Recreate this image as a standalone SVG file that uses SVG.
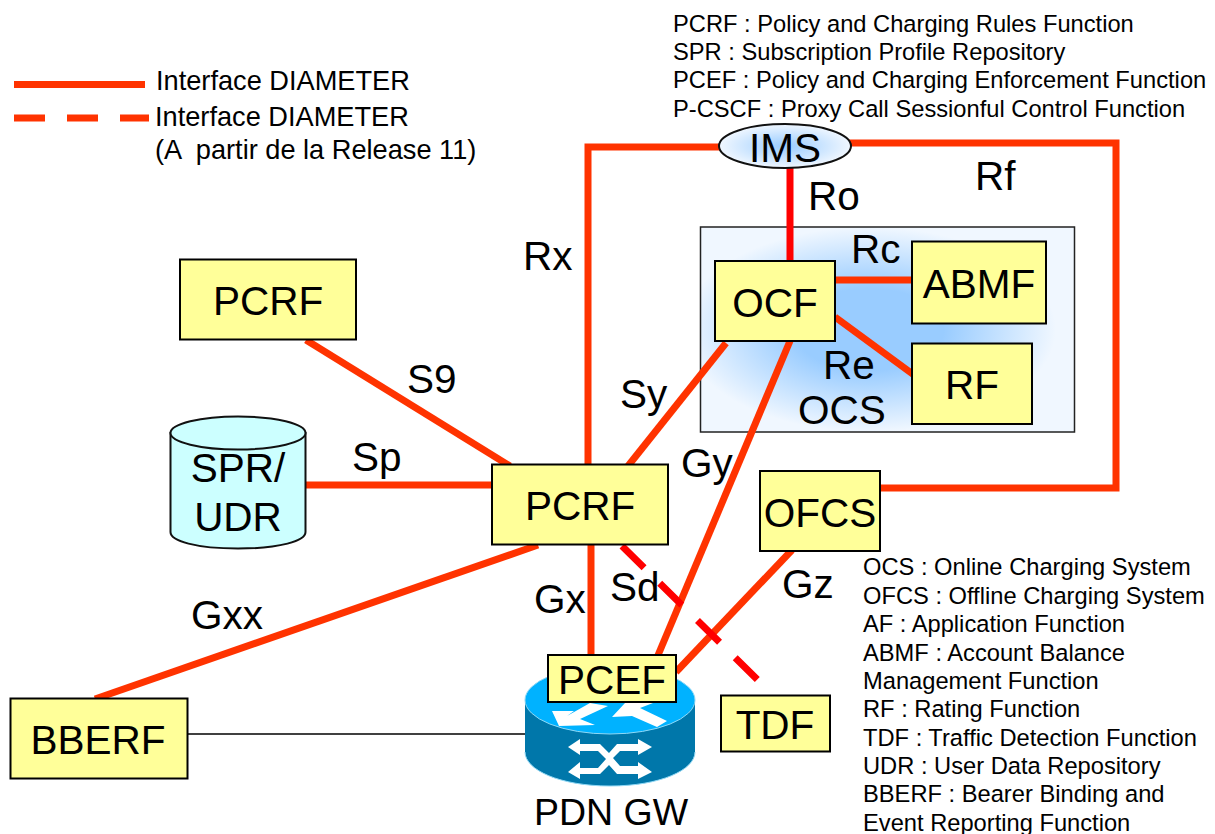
<svg xmlns="http://www.w3.org/2000/svg" width="1215" height="834" viewBox="0 0 1215 834">
<style>
text{font-family:"Liberation Sans",Arial,sans-serif;fill:#000}
.t{font-size:23.7px}
.g{font-size:27.200px;white-space:pre}
.l{font-size:40.5px}
.n{font-size:40.5px;text-anchor:middle}
.box{fill:#ffff99;stroke:#000;stroke-width:2}
.c{fill:none;stroke:#ff3300;stroke-width:7}
.r{fill:none;stroke:#ff0000;stroke-width:7}
</style>
<defs>
<radialGradient id="g1" cx="0.45" cy="0.5" r="0.5"><stop offset="0" stop-color="#99ccff"/><stop offset="0.4" stop-color="#99ccff"/><stop offset="1" stop-color="#f0f7ff"/></radialGradient>
<radialGradient id="g2" cx="0.5" cy="0.5" r="0.5"><stop offset="0" stop-color="#99ccff"/><stop offset="1" stop-color="#f0f7ff"/></radialGradient>
</defs>
<rect width="1215" height="834" fill="#fff"/>
<g id="legend">
<line x1="14" y1="84.500" x2="145" y2="84.500" class="c"/>
<line x1="14" y1="118" x2="149" y2="118" class="c" stroke-dasharray="31 22"/>
<text x="156" y="90" class="g">Interface DIAMETER</text>
<text x="155" y="126" class="g">Interface DIAMETER</text>
<text x="155" y="159" class="g">(A  partir de la Release 11)</text>
</g>
<g id="glossary-top">
<text x="673" y="32" class="t">PCRF : Policy and Charging Rules Function</text>
<text x="673" y="60" class="t">SPR : Subscription Profile Repository</text>
<text x="673" y="88" class="t">PCEF : Policy and Charging Enforcement Function</text>
<text x="673" y="117" class="t">P-CSCF : Proxy Call Sessionful Control Function</text>
</g>
<g id="glossary-bottom">
<text x="863" y="575" class="t">OCS : Online Charging System</text>
<text x="863" y="604" class="t">OFCS : Offline Charging System</text>
<text x="863" y="632" class="t">AF : Application Function</text>
<text x="863" y="661" class="t">ABMF : Account Balance</text>
<text x="863" y="689" class="t">Management Function</text>
<text x="863" y="717" class="t">RF : Rating Function</text>
<text x="863" y="746" class="t">TDF : Traffic Detection Function</text>
<text x="863" y="774" class="t">UDR : User Data Repository</text>
<text x="863" y="802" class="t">BBERF : Bearer Binding and</text>
<text x="863" y="831" class="t">Event Reporting Function</text>
</g>
<g id="ocs">
<rect x="700.500" y="227" width="374" height="205" fill="url(#g1)" stroke="#222" stroke-width="1.500"/>
<text x="842" y="424" class="n">OCS</text>
</g>
<g id="connectors">
<polyline class="c" points="588,470 588,147 722,147"/>
<polyline class="c" points="848,143 1116,143 1116,488 880,488"/>
<line class="r" x1="790" y1="165" x2="790" y2="264"/>
<line class="c" x1="835" y1="280" x2="914" y2="280"/>
<line class="c" x1="835" y1="317" x2="914" y2="375"/>
<line class="c" x1="726" y1="343" x2="628" y2="466"/>
<line class="c" x1="790" y1="341" x2="656" y2="660"/>
<line class="c" x1="306" y1="340" x2="510" y2="466"/>
<line class="c" x1="304" y1="485" x2="494" y2="485"/>
<line class="c" x1="538" y1="545" x2="95" y2="699"/>
<line class="c" x1="591" y1="545" x2="591" y2="656"/>
<line class="c" x1="792" y1="550" x2="676" y2="672"/>
<line x1="622" y1="546" x2="765" y2="687" fill="none" stroke="#ff0000" stroke-width="7" stroke-dasharray="31 22"/>
<line x1="188" y1="734" x2="526" y2="734" stroke="#000" stroke-width="1.500"/>
</g>
<g id="labels">
<text x="808" y="210" class="l">Ro</text>
<text x="975" y="190" class="l">Rf</text>
<text x="851" y="263" class="l">Rc</text>
<text x="823" y="379" class="l">Re</text>
<text x="523" y="270" class="l">Rx</text>
<text x="407" y="393" class="l">S9</text>
<text x="620" y="408" class="l">Sy</text>
<text x="352" y="471" class="l">Sp</text>
<text x="681" y="477" class="l">Gy</text>
<text x="534" y="613" class="l">Gx</text>
<text x="610" y="601" class="l">Sd</text>
<text x="782" y="598" class="l">Gz</text>
<text x="191" y="629" class="l">Gxx</text>
</g>
<g id="ims">
<ellipse cx="785" cy="146" rx="66" ry="22" fill="url(#g2)" stroke="#111" stroke-width="2"/>
<text x="785" y="162" class="n">IMS</text>
</g>
<g id="ocf"><rect x="715" y="261" width="120" height="80" class="box"/><text x="775" y="317" class="n">OCF</text></g>
<g id="abmf"><rect x="912" y="241.500" width="134" height="82" class="box"/><text x="979" y="298" class="n">ABMF</text></g>
<g id="rf"><rect x="912" y="343.500" width="120" height="80.500" class="box"/><text x="972" y="399" class="n">RF</text></g>
<g id="pcrf-top"><rect x="180" y="259.500" width="176" height="80" class="box"/><text x="268" y="315" class="n">PCRF</text></g>
<g id="pcrf"><rect x="492" y="464.500" width="176" height="80" class="box"/><text x="580" y="520" class="n">PCRF</text></g>
<g id="ofcs"><rect x="760" y="471" width="120" height="80" class="box"/><text x="820" y="527" class="n">OFCS</text></g>
<g id="spr">
<path d="M170.500 433V532C170.500 541 196 548.500 238 548.500S305.500 541 305.500 532V433Z" fill="#ccffff" stroke="#111" stroke-width="2"/>
<ellipse cx="238" cy="433" rx="67.500" ry="16.500" fill="#ccffff" stroke="#111" stroke-width="2"/>
<text x="238" y="482" class="n">SPR/</text>
<text x="238" y="531" class="n">UDR</text>
</g>
<g id="bberf"><rect x="10.500" y="698.500" width="177" height="80" class="box"/><text x="98" y="754" class="n">BBERF</text></g>
<g id="tdf"><rect x="721" y="695.500" width="109" height="56" class="box"/><text x="775" y="739" class="n">TDF</text></g>
<g id="pdn-gw">
<path d="M525 700V752C525 770 560 786 610 786S695 770 695 752V700Z" fill="#0077aa"/>
<ellipse cx="610" cy="700" rx="85" ry="34" fill="#00b2ff" stroke="#8fd8f5" stroke-width="1"/>
<path d="M525 752C525 770 560 786 610 786S695 770 695 752" fill="none" stroke="#8fd8f5" stroke-width="1"/>
<g fill="#fff">
<polygon points="552,711 559,726 595,725 580,719 608,706 590,703 567,716 574,711"/>
<polygon points="612,717 625,703 653,703 640,708 667,721 657,727 632,716"/>
<polygon points="568,747 580,739 580,744 600,744 609,753 617,744 638,744 638,739 652,747 638,755 638,751 620,751 613,758 620,766 638,766 638,762 652,772 638,779 638,774 617,774 609,765 600,774 580,774 580,779 568,772 580,762 580,768 598,768 606,759 598,751 580,751 580,755"/>
</g>
<text x="611" y="825" font-size="37.500" text-anchor="middle">PDN GW</text>
</g>
<g id="pcef"><rect x="548" y="655" width="128" height="47" class="box"/><text x="612" y="694" class="n">PCEF</text></g>
</svg>
